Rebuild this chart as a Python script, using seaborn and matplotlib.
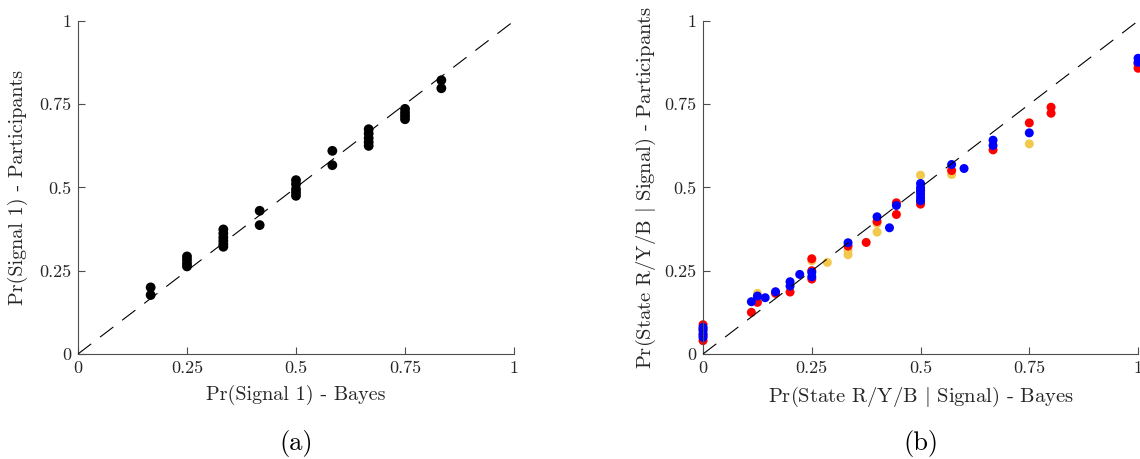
import numpy as np
import pandas as pd
import matplotlib
matplotlib.use("Agg")
import matplotlib.pyplot as plt
import seaborn as sns

sns.set_theme(style="white")
plt.rcParams["font.family"] = ["cmr10", "DejaVu Serif"]
plt.rcParams["mathtext.fontset"] = "cm"
plt.rcParams["axes.formatter.use_mathtext"] = True

# ---- Panel (a): Pr(Signal 1) ----
a_bayes = [1/6, 1/6,
           0.25, 0.25, 0.25, 0.25,
           1/3, 1/3, 1/3, 1/3, 1/3, 1/3,
           5/12, 5/12,
           0.5, 0.5, 0.5, 0.5, 0.5,
           7/12, 7/12,
           2/3, 2/3, 2/3, 2/3, 2/3,
           0.75, 0.75, 0.75, 0.75,
           5/6, 5/6]
a_part = [0.200, 0.177,
          0.293, 0.283, 0.272, 0.263,
          0.374, 0.362, 0.350, 0.340, 0.330, 0.322,
          0.430, 0.387,
          0.522, 0.510, 0.495, 0.485, 0.475,
          0.610, 0.567,
          0.675, 0.662, 0.648, 0.636, 0.625,
          0.736, 0.725, 0.715, 0.705,
          0.822, 0.798]

# ---- Panel (b): Pr(State R/Y/B | Signal) ----
yel_bayes = [0, 0, 0.125, 0.25, 2/7, 1/3, 1/3, 0.4, 0.4, 0.5, 4/7, 0.75, 1.0]
yel_part  = [0.060, 0.075, 0.182, 0.280, 0.275, 0.310, 0.298, 0.392, 0.366, 0.537, 0.539, 0.631, 0.865]

red_bayes = [0, 0, 0, 0, 1/9, 0.125, 1/6, 0.2, 0.25, 0.25, 0.25, 1/3, 0.375, 0.4,
             4/9, 4/9, 0.5, 0.5, 0.5, 4/7, 2/3, 0.75, 0.8, 0.8, 1.0, 1.0]
red_part  = [0.040, 0.055, 0.075, 0.088, 0.125, 0.155, 0.182, 0.186, 0.286, 0.250, 0.225,
             0.324, 0.335, 0.398, 0.454, 0.419, 0.450, 0.458, 0.490, 0.551, 0.613,
             0.694, 0.741, 0.723, 0.858, 0.872]

blu_bayes = [0, 0, 0, 0, 1/9, 0.125, 1/7, 1/6, 0.2, 0.2, 2/9, 0.25, 0.25, 1/3,
             0.4, 3/7, 4/9, 0.5, 0.5, 0.5, 0.5, 0.5, 0.5, 4/7, 0.6, 2/3, 2/3, 0.75,
             1.0, 1.0]
blu_part  = [0.050, 0.060, 0.070, 0.080, 0.157, 0.174, 0.169, 0.187, 0.217, 0.204,
             0.239, 0.245, 0.232, 0.334, 0.412, 0.379, 0.446, 0.512, 0.500, 0.490,
             0.480, 0.470, 0.460, 0.569, 0.557, 0.642, 0.626, 0.664, 0.888, 0.876]

df_a = pd.DataFrame({"bayes": a_bayes, "part": a_part})
df_b = pd.concat([
    pd.DataFrame({"bayes": yel_bayes, "part": yel_part, "state": "Y"}),
    pd.DataFrame({"bayes": red_bayes, "part": red_part, "state": "R"}),
    pd.DataFrame({"bayes": blu_bayes, "part": blu_part, "state": "B"}),
], ignore_index=True)
palette = {"Y": "#f2c94c", "R": "#ff0000", "B": "#0000ff"}

fig = plt.figure(figsize=(11.4, 4.59), dpi=100)
ax1 = fig.add_axes([0.0684, 0.2288, 0.3825, 0.7255])
ax2 = fig.add_axes([0.6167, 0.2288, 0.3816, 0.7255])

sns.scatterplot(data=df_a, x="bayes", y="part", color="black", s=50,
                edgecolor="none", ax=ax1, clip_on=False, zorder=2)
sns.scatterplot(data=df_b, x="bayes", y="part", hue="state", palette=palette,
                s=42, edgecolor="none", ax=ax2, legend=False, clip_on=False, zorder=2)

ticks = [0, 0.25, 0.5, 0.75, 1]
tlabels = ["0", "0.25", "0.5", "0.75", "1"]
for ax in (ax1, ax2):
    ax.plot([0, 1], [0, 1], color="black", lw=0.8, ls=(0, (15, 10)), zorder=3)
    ax.set_xlim(0, 1)
    ax.set_ylim(0, 1)
    ax.set_xticks(ticks)
    ax.set_yticks(ticks)
    ax.set_xticklabels(tlabels)
    ax.set_yticklabels(tlabels)
    for s in ("top", "right"):
        ax.spines[s].set_visible(False)
    for s in ("left", "bottom"):
        ax.spines[s].set_color("#4d4d4d")
        ax.spines[s].set_linewidth(0.8)
    ax.tick_params(direction="in", length=5, width=0.8, color="#4d4d4d",
                   labelsize=13, labelcolor="#262626", pad=5,
                   left=True, bottom=True)

ax1.set_xlabel("Pr(Signal 1) - Bayes", fontsize=14.5, color="#262626", labelpad=6)
ax1.set_ylabel("Pr(Signal 1) - Participants", fontsize=14.5, color="#262626", labelpad=8)
ax2.set_xlabel(r"Pr(State R/Y/B $|$ Signal) - Bayes", fontsize=14.8, color="#262626", labelpad=6)
ax2.set_ylabel(r"Pr(State R/Y/B $|$ Signal) - Participants", fontsize=14.8, color="#262626", labelpad=4)

ax1.text(0.5, -0.27, "(a)", transform=ax1.transAxes, ha="center", va="center",
         fontsize=19, color="black")
ax2.text(0.5, -0.27, "(b)", transform=ax2.transAxes, ha="center", va="center",
         fontsize=19, color="black")

fig.savefig("out.png", dpi=100)
